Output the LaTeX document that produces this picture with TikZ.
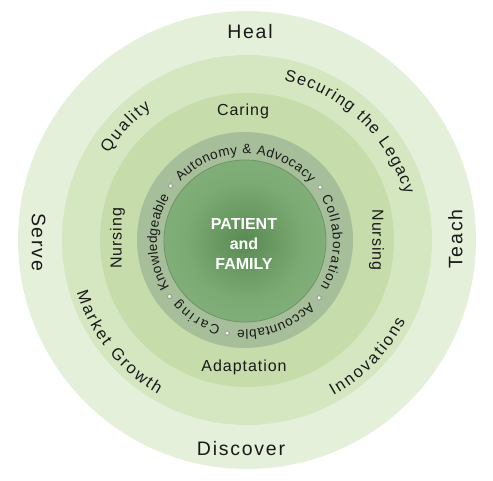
\documentclass[tikz,border=0pt]{standalone}
\usepackage{fontspec}
\setmainfont{Liberation Sans}
\usetikzlibrary{decorations.text}
\definecolor{ringA}{HTML}{E4F0DA}
\definecolor{ringB}{HTML}{D5E7C0}
\definecolor{ringC}{HTML}{C6DCAA}
\definecolor{ringD}{HTML}{A7BE9B}
\definecolor{coreOut}{HTML}{90BB88}
\definecolor{coreMid}{HTML}{7BAA73}
\definecolor{coreIn}{HTML}{5A8A53}
\definecolor{coreLine}{HTML}{6F9468}
\definecolor{txt}{HTML}{1A1A1A}
\pgfdeclareradialshading{coreshade}{\pgfpoint{0bp}{0bp}}{color(0bp)=(coreIn); color(18bp)=(coreMid); color(45bp)=(coreOut); color(50bp)=(coreOut)}
\begin{document}
\begin{tikzpicture}[x=1pt,y=1pt,
  bigtxt/.style={font=\fontsize{19.5}{19.5}\selectfont\addfontfeature{LetterSpace=9}, text=txt, inner sep=0pt},
  midtxt/.style={font=\fontsize{16}{16}\selectfont\addfontfeature{LetterSpace=6}, text=txt, inner sep=0pt},
  coretxt/.style={font=\fontsize{16}{20}\selectfont\bfseries, text=white, align=center, inner sep=0pt},
  arcmid/.style={decorate, decoration={text along path, text align={fit to path}, text color=txt, text={|\fontsize{16.5}{16.5}\selectfont|#1}}},
  arcsmall/.style={decorate, decoration={text along path, text align={fit to path}, text color=txt, text={|\fontsize{13.5}{13.5}\selectfont|#1}}},
  bulletdot/.style={circle, inner sep=0pt, minimum size=4.8pt, shading=ball, ball color=white}
]
\useasboundingbox (-247,-240) rectangle (246,240);
% rings
\fill[ringA] (0,0) circle[radius=229];
\fill[ringB] (0,0) circle[radius=185];
\fill[ringC] (0,0) circle[radius=147];
\fill[ringD] (-2,0) circle[radius=108];
\shade[shading=coreshade, draw=coreLine, line width=0.8pt] (-2,-1) circle[radius=81];

% outer ring labels
\node[bigtxt] (heal) at (3,208) {Heal};
\node[bigtxt] (discover) at (-6,-209) {Discover};
\node[bigtxt, rotate=90] (teach) at (208.5,1) {Teach};
\node[bigtxt, rotate=-90] (serve) at (-208.5,-2) {Serve};

% second ring labels
\path[arcmid={Quality}] (148:163) arc[start angle=148, end angle=126, radius=163];
\path[arcmid={Securing the Legacy}] (77:164) arc[start angle=77, end angle=16, radius=164];
\path[arcmid={Market Growth}] (197:178) arc[start angle=197, end angle=240, radius=178];
\path[arcmid={Innovations}] (-61:178) arc[start angle=-61, end angle=-27, radius=178];

% third ring labels
\node[midtxt] (caring) at (-4,129) {Caring};
\node[midtxt] (adapt) at (-3,-127) {Adaptation};
\node[midtxt, rotate=90] (nursL) at (-129.5,1.5) {Nursing};
\node[midtxt, rotate=-90] (nursR) at (129.5,0) {Nursing};

% gray ring labels
\begin{scope}[shift={(-2,-2)}]
\path[arcsmall={Autonomy {\&} Advocacy}] (137:88) arc[start angle=137, end angle=42, radius=88];
\path[arcsmall={Collaboration}] (30:88) arc[start angle=30, end angle=-31, radius=88];
\path[arcsmall={Accountable}] (-43:88) arc[start angle=-43, end angle=-95, radius=88];
\path[arcsmall={Caring}] (254:88) arc[start angle=254, end angle=221, radius=88];
\path[arcsmall={Knowledgeable}] (211:88) arc[start angle=211, end angle=149, radius=88];
\node[bulletdot] (b1) at (143:93) {};
\node[bulletdot] (b2) at (36:93) {};
\node[bulletdot] (b3) at (-37:93) {};
\node[bulletdot] (b4) at (-101:93) {};
\node[bulletdot] (b5) at (216:93) {};
\end{scope}

% core
\node[coretxt] (core) at (-3,-4) {PATIENT\\and\\FAMILY};
\end{tikzpicture}
\end{document}
